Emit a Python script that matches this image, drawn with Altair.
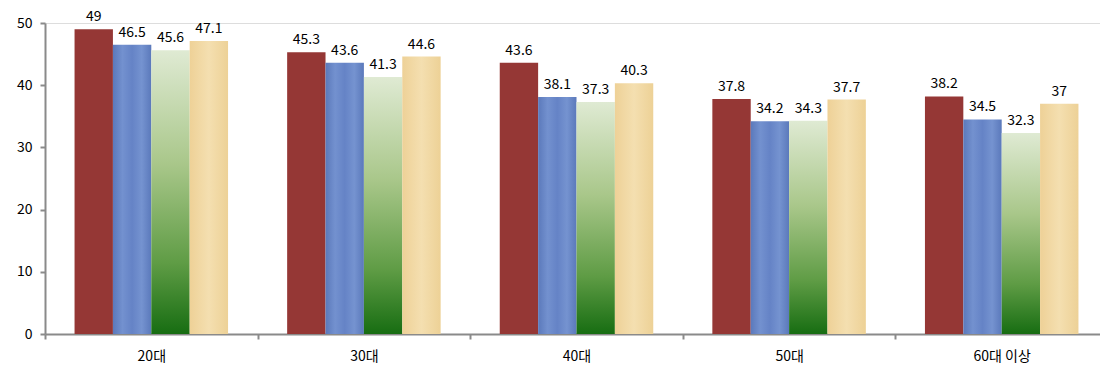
import altair as alt
import pandas as pd

# Age groups and the four series shown per group
groups = ["20대", "30대", "40대", "50대", "60대 이상"]
series_names = ["계열1", "계열2", "계열3", "계열4"]
s1 = [49, 45.3, 43.6, 37.8, 38.2]
s2 = [46.5, 43.6, 38.1, 34.2, 34.5]
s3 = [45.6, 41.3, 37.3, 34.3, 32.3]
s4 = [47.1, 44.6, 40.3, 37.7, 37]

rows = []
for name, vals in zip(series_names, [s1, s2, s3, s4]):
    for g, v in zip(groups, vals):
        rows.append({"group": g, "series": name, "value": v})
df = pd.DataFrame(rows)

FONT = "Noto Sans CJK KR"

green_grad = alt.Gradient(
    gradient="linear",
    stops=[
        alt.GradientStop(color="#dfead3", offset=0),
        alt.GradientStop(color="#a9c78a", offset=0.4),
        alt.GradientStop(color="#5f9c45", offset=0.75),
        alt.GradientStop(color="#176d12", offset=1),
    ],
    x1=0, x2=0, y1=0, y2=1,
)
blue_grad = alt.Gradient(
    gradient="linear",
    stops=[
        alt.GradientStop(color="#5b79bb", offset=0),
        alt.GradientStop(color="#7391cf", offset=0.25),
        alt.GradientStop(color="#6583c6", offset=0.5),
        alt.GradientStop(color="#7593d0", offset=0.75),
        alt.GradientStop(color="#5b79bb", offset=1),
    ],
    x1=0, x2=1, y1=0, y2=0,
)
tan_grad = alt.Gradient(
    gradient="linear",
    stops=[
        alt.GradientStop(color="#eed197", offset=0),
        alt.GradientStop(color="#f4dfb0", offset=0.5),
        alt.GradientStop(color="#edd196", offset=1),
    ],
    x1=0, x2=1, y1=0, y2=0,
)
fills = {
    "계열1": "#953735",
    "계열2": blue_grad,
    "계열3": green_grad,
    "계열4": tan_grad,
}

x_enc = alt.X(
    "group:N",
    sort=groups,
    title=None,
    scale=alt.Scale(paddingInner=0, paddingOuter=0, range=[0, 1063]),
    axis=alt.Axis(
        tickBand="extent",
        labelAngle=0,
        labelFont=FONT,
        labelFontSize=14,
        labelColor="#000000",
        labelPadding=10,
        domainColor="#8a8a8a",
        domainWidth=2,
        tickColor="#8a8a8a",
        tickWidth=2,
        tickSize=5,
    ),
)
xoff_enc = alt.XOffset(
    "series:N",
    sort=series_names,
    scale=alt.Scale(paddingInner=0, paddingOuter=0.77),
)
y_enc = alt.Y(
    "value:Q",
    title=None,
    scale=alt.Scale(domain=[0, 50], nice=False),
    axis=alt.Axis(
        values=[0, 10, 20, 30, 40, 50],
        grid=False,
        labelFont=FONT,
        labelFontSize=14,
        labelColor="#000000",
        labelPadding=8,
        domainColor="#8a8a8a",
        domainWidth=2,
        tickColor="#8a8a8a",
        tickWidth=2,
        tickSize=5,
    ),
)

layers = []
for name in series_names:
    bars = (
        alt.Chart(df)
        .transform_filter(alt.datum.series == name)
        .mark_bar(fill=fills[name], stroke=None, cornerRadius=0)
        .encode(x=x_enc, xOffset=xoff_enc, y=y_enc)
    )
    layers.append(bars)

labels = (
    alt.Chart(df)
    .mark_text(font=FONT, fontSize=14, color="#000000", baseline="bottom", dy=-5)
    .encode(x=x_enc, xOffset=xoff_enc, y=y_enc, text=alt.Text("value:Q"))
)
layers.append(labels)

chart = (
    alt.layer(*layers)
    .properties(
        width=1055,
        height=311,
        autosize=alt.AutoSizeParams(type="none"),
        padding={"left": 45, "top": 23, "right": 0, "bottom": 36},
    )
    .configure_view(stroke=None)
    .configure(background="#ffffff")
)

chart.save("out.html", embed_options={"renderer": "svg", "actions": False})
